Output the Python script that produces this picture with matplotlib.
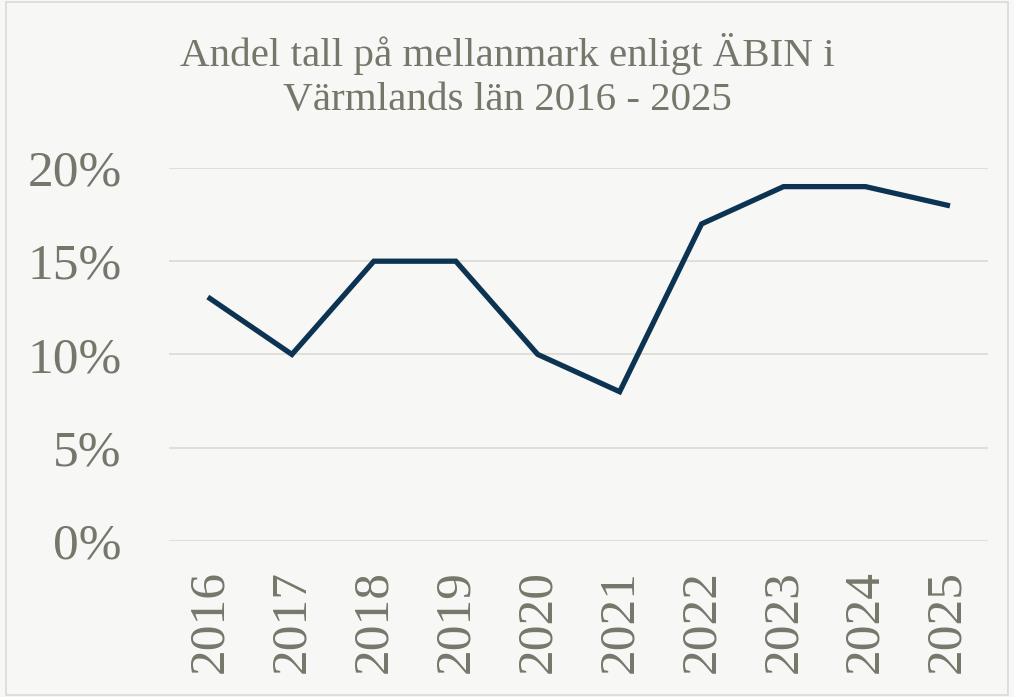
import matplotlib.pyplot as plt
from matplotlib.ticker import PercentFormatter
from matplotlib.patches import Rectangle

years = ['2016', '2017', '2018', '2019', '2020', '2021', '2022', '2023', '2024', '2025']
share = [13, 10, 15, 15, 10, 8, 17, 19, 19, 18]
yticks = [0, 5, 10, 15, 20]

bg = '#f7f7f5'
txt = '#76766a'
line_col = '#0c3352'

plt.rcParams['font.family'] = ['Liberation Serif', 'DejaVu Serif']

fig = plt.figure(figsize=(10.14, 6.97), dpi=100, facecolor=bg)
ax = fig.add_axes([0.1667, 0.224, 0.808, 0.535])
ax.set_facecolor(bg)

ax.plot(range(len(years)), share, color=line_col, lw=3.8, solid_joinstyle='miter')

ax.set_xlim(-0.5, len(years) - 0.5)
ax.set_ylim(0, 20)
ax.set_yticks(yticks)
ax.yaxis.set_major_formatter(PercentFormatter(decimals=0))
ax.set_xticks(range(len(years)))
ax.set_xticklabels(years, rotation=90)
ax.grid(axis='y', color='#dcdcd8', lw=1.3)
ax.set_axisbelow(True)
for s in ax.spines.values():
    s.set_visible(False)
ax.tick_params(axis='both', length=0, colors=txt, labelsize=37)
ax.tick_params(axis='y', pad=34)
ax.tick_params(axis='x', pad=21)

fig.text(0.5, 0.891, 'Andel tall på mellanmark enligt ÄBIN i\nVärmlands län 2016 - 2025',
         ha='center', va='center', fontsize=29.5, color=txt, linespacing=1.25)

fig.patches.append(Rectangle((0.006, 0.003), 0.988, 0.994, transform=fig.transFigure,
                             fill=False, edgecolor='#d9d9d9', lw=1.2))

fig.savefig('out.png', dpi=100, facecolor=bg)
